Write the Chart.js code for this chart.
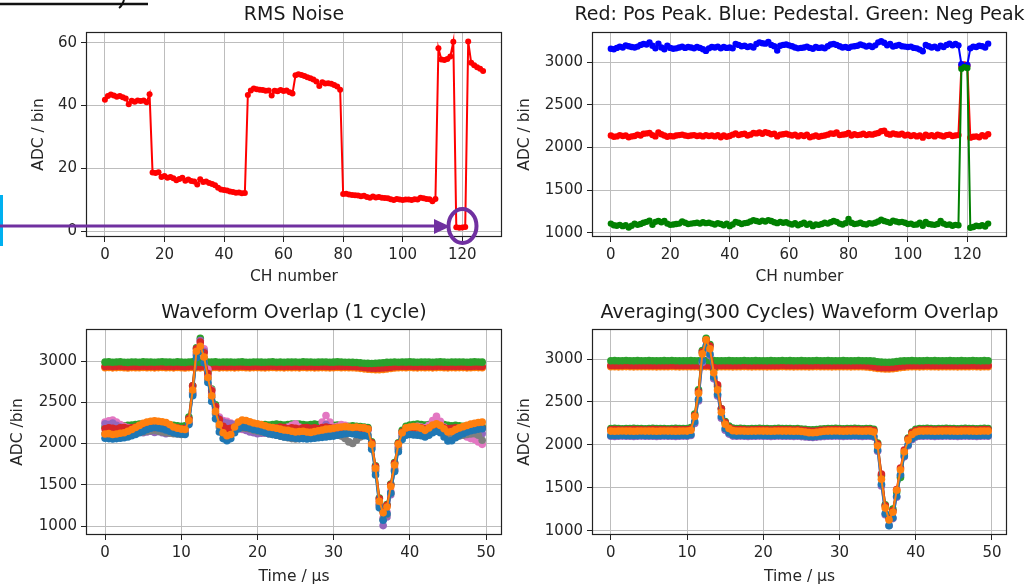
<!DOCTYPE html>
<html>
<head>
<meta charset="utf-8">
<script src="https://cdn.jsdelivr.net/npm/chart.js@4.4.1/dist/chart.umd.min.js"></script>
<style>
  html, body { margin: 0; padding: 0; background: #fff; overflow: hidden; }
  #wrap { position: relative; width: 1029px; height: 587px; }
  canvas { position: absolute; }
  svg { position: absolute; left: 0; top: 0; pointer-events: none; }
</style>
</head>
<body>
<div id="wrap">
  <canvas id="cTL" width="515" height="290" style="left:0;top:0"></canvas>
  <canvas id="cTR" width="514" height="290" style="left:515px;top:0"></canvas>
  <canvas id="cBL" width="515" height="297" style="left:0;top:290px"></canvas>
  <canvas id="cBR" width="514" height="297" style="left:515px;top:290px"></canvas>
  <svg width="1029" height="587">
    <line x1="0" y1="4" x2="148" y2="4" stroke="#111" stroke-width="2.5"/>
    <path d="M124,0 Q122,6 119,8" fill="none" stroke="#111" stroke-width="2"/>
    <rect x="0" y="195" width="3" height="51" fill="#00b0f0"/>
    <line x1="0" y1="226" x2="436" y2="226" stroke="#7030a0" stroke-width="3"/>
    <polygon points="434,219 434,234 450,226.5" fill="#7030a0"/>
    <ellipse cx="462.5" cy="226" rx="14" ry="17" fill="none" stroke="#7030a0" stroke-width="4"/>
  </svg>
</div>
<script>
// x positions: channel index and sample time (0.5 us step)
const channels = Array.from({ length: 128 }, (_, i) => i);
const timeUs = Array.from({ length: 100 }, (_, i) => i * 0.5);

const chTicks = [0, 20, 40, 60, 80, 100, 120];
const rmsTicks = [0, 20, 40, 60];
const adcTicks = [1000, 1500, 2000, 2500, 3000];
const timeTicks = [0, 10, 20, 30, 40, 50];

// RMS noise per channel
const rmsNoise = [
  41.8,43.0,43.5,43.2,42.8,43.0,42.6,42.2,40.4,41.5,41.2,41.6,41.4,41.6,41.0,43.6,
  18.6,18.5,18.7,17.2,17.5,17.0,17.2,16.8,16.2,16.6,17.0,16.0,16.4,15.9,15.8,14.8,
  16.5,15.6,15.8,15.3,15.0,14.6,13.8,13.2,13.1,12.9,12.6,12.4,12.2,12.3,12.0,12.1,
  43.3,44.8,45.4,45.2,45.0,44.9,44.7,44.8,43.2,44.7,44.5,44.9,44.6,44.8,44.2,43.8,
  49.6,49.9,49.7,49.4,49.0,48.7,48.3,47.6,46.2,47.4,47.0,47.1,46.9,46.5,46.0,45.0,
  11.8,11.9,11.6,11.5,11.4,11.3,11.1,11.2,10.8,10.6,11.0,10.7,10.8,10.6,10.5,10.4,
  10.1,9.9,10.2,10.0,9.9,10.0,10.0,9.9,10.1,10.0,10.6,10.4,10.2,10.1,9.5,10.2,
  58.2,54.6,54.5,54.8,55.6,60.3,1.2,1.0,1.1,1.3,60.4,53.6,52.8,52.2,51.7,51.0
];

// peaks / pedestal per channel
const posPeak = [
  2140,2125,2130,2145,2135,2140,2120,2130,2135,2150,2140,2160,2165,2170,2145,2130,
  2175,2155,2140,2125,2135,2130,2140,2145,2150,2140,2135,2140,2145,2135,2140,2130,
  2145,2135,2140,2130,2145,2120,2140,2125,2135,2150,2165,2145,2155,2160,2140,2150,
  2170,2165,2175,2160,2180,2170,2155,2160,2130,2150,2155,2160,2150,2140,2150,2130,
  2145,2135,2150,2120,2130,2140,2125,2135,2140,2150,2165,2160,2175,2145,2150,2155,
  2170,2140,2155,2145,2150,2160,2145,2155,2150,2160,2170,2190,2195,2160,2150,2165,
  2155,2150,2160,2140,2150,2135,2145,2130,2140,2115,2150,2135,2145,2130,2150,2140,
  2130,2145,2150,2135,2140,2145,2950,2970,2960,2115,2125,2130,2120,2145,2130,2155
];
const pedestal = [
  3155,3150,3165,3180,3170,3195,3185,3175,3170,3180,3200,3210,3205,3230,3190,3160,
  3215,3170,3150,3190,3165,3155,3160,3170,3180,3165,3175,3170,3160,3175,3165,3150,
  3130,3160,3175,3170,3180,3160,3175,3165,3170,3160,3210,3200,3185,3190,3175,3185,
  3170,3210,3230,3220,3215,3235,3200,3185,3135,3190,3200,3205,3195,3185,3170,3160,
  3165,3170,3180,3165,3155,3175,3165,3170,3160,3185,3205,3210,3200,3185,3170,3175,
  3165,3180,3185,3190,3205,3195,3180,3190,3175,3195,3230,3242,3225,3195,3210,3180,
  3190,3200,3185,3180,3175,3180,3165,3160,3145,3125,3200,3185,3170,3180,3160,3190,
  3175,3200,3215,3195,3210,3195,2975,2950,2965,3160,3180,3175,3190,3185,3170,3215
];
const negPeak = [
  1110,1090,1085,1095,1080,1090,1065,1085,1110,1095,1105,1120,1130,1145,1095,1130,
  1140,1125,1140,1110,1095,1100,1105,1110,1135,1120,1105,1110,1115,1120,1110,1125,
  1115,1120,1110,1100,1115,1105,1090,1110,1080,1100,1130,1120,1105,1115,1120,1135,
  1150,1140,1130,1145,1135,1150,1140,1125,1115,1130,1120,1125,1110,1100,1115,1090,
  1105,1120,1095,1110,1080,1100,1095,1105,1120,1110,1125,1140,1130,1110,1100,1115,
  1165,1120,1105,1110,1120,1105,1100,1115,1110,1120,1135,1155,1140,1130,1120,1145,
  1135,1125,1130,1120,1105,1110,1095,1100,1120,1085,1130,1105,1100,1095,1105,1140,
  1110,1095,1100,1085,1095,1090,2920,2940,2930,1062,1070,1085,1080,1090,1075,1110
];

// waveform, 1 cycle (rows = 5 us)
const cycFlatOrange = [
  2920,2922,2918,2921,2923,2919,2917,2921,2920,2919, 2922,2920,2921,2918,2921,2923,2920,2921,2918,2922,
  2920,2917,2921,2922,2919,2918,2921,2920,2920,2922, 2918,2921,2920,2921,2918,2921,2922,2919,2918,2921,
  2921,2920,2918,2921,2922,2919,2921,2918,2921,2920, 2921,2918,2922,2920,2921,2918,2920,2921,2920,2918,
  2920,2922,2920,2921,2919,2920,2917,2912,2906,2901, 2897,2895,2896,2899,2904,2910,2916,2919,2921,2920,
  2922,2920,2918,2921,2920,2921,2918,2921,2922,2920, 2918,2921,2920,2921,2921,2918,2920,2922,2921,2920
];
const cycFlatRed = [
  2935,2937,2933,2936,2938,2934,2932,2936,2935,2934, 2937,2935,2936,2933,2936,2938,2935,2936,2933,2937,
  2935,2932,2936,2937,2934,2933,2936,2935,2935,2937, 2933,2936,2935,2936,2933,2936,2937,2934,2933,2936,
  2936,2935,2933,2936,2937,2934,2936,2933,2936,2935, 2936,2933,2937,2935,2936,2933,2935,2936,2935,2933,
  2935,2937,2935,2936,2934,2935,2932,2928,2922,2917, 2914,2912,2913,2916,2920,2926,2931,2934,2936,2935,
  2937,2935,2933,2936,2935,2936,2933,2936,2937,2935, 2933,2936,2935,2936,2936,2933,2935,2937,2936,2935
];
const cycFlatGreen = [
  2987,2990,2985,2988,2991,2986,2984,2989,2988,2986, 2990,2987,2988,2985,2989,2991,2987,2988,2985,2990,
  2987,2984,2988,2990,2986,2985,2989,2988,2987,2990, 2985,2988,2987,2989,2985,2988,2990,2986,2985,2988,
  2989,2987,2985,2988,2990,2986,2988,2985,2989,2987, 2988,2985,2990,2987,2988,2985,2987,2989,2988,2985,
  2987,2990,2988,2985,2986,2984,2982,2978,2974,2972, 2971,2973,2976,2980,2984,2986,2988,2985,2988,2987,
  2990,2987,2985,2988,2987,2989,2985,2988,2990,2987, 2985,2988,2987,2989,2988,2985,2987,2990,2988,2987
];
const cycGreen = [
  2200,2210,2205,2200,2210,2215,2220,2225,2230,2235, 2240,2245,2250,2245,2240,2235,2230,2225,2220,2215,
  2210,2215,2320,2700,3160,3275,3130,2870,2660,2470, 2310,2230,2200,2210,2230,2245,2250,2245,2240,2235,
  2230,2225,2230,2225,2230,2235,2230,2225,2230,2235, 2240,2235,2230,2225,2230,2235,2230,2225,2230,2225,
  2220,2225,2220,2215,2210,2215,2210,2205,2200,2195, 2020,1730,1340,1190,1260,1510,1770,2010,2160,2210,
  2225,2230,2235,2230,2225,2230,2240,2250,2240,2230, 2220,2215,2220,2215,2210,2215,2220,2215,2210,2205
];
const cycPink = [
  2260,2275,2285,2260,2230,2210,2195,2185,2175,2170, 2160,2170,2180,2190,2185,2175,2160,2150,2140,2135,
  2130,2140,2240,2600,3080,3200,3150,2900,2650,2450, 2320,2280,2270,2250,2220,2190,2170,2160,2150,2140,
  2135,2130,2125,2120,2115,2120,2140,2180,2200,2220, 2240,2200,2160,2140,2130,2150,2170,2260,2340,2260,
  2200,2210,2230,2220,2190,2170,2160,2170,2180,2170, 1980,1690,1290,1100,1170,1420,1700,1960,2120,2170,
  2190,2200,2210,2200,2190,2220,2280,2330,2270,2200, 2160,2140,2120,2110,2100,2080,2060,2050,2020,1990
];
const cycPurple = [
  2240,2230,2250,2220,2200,2180,2160,2150,2140,2150, 2130,2140,2150,2135,2145,2130,2120,2135,2125,2130,
  2120,2150,2260,2620,3100,3250,3120,2820,2600,2420, 2300,2260,2250,2240,2230,2200,2180,2160,2140,2130,
  2120,2125,2130,2140,2135,2140,2130,2120,2110,2120, 2140,2160,2150,2130,2120,2125,2140,2180,2230,2190,
  2150,2140,2150,2170,2160,2150,2120,2130,2150,2160, 1960,1680,1250,1005,1110,1380,1680,1950,2100,2150,
  2160,2170,2165,2160,2150,2160,2190,2220,2190,2150, 2120,2110,2120,2130,2140,2150,2145,2140,2130,2120
];
const cycGray = [
  2120,2110,2105,2115,2120,2115,2110,2120,2130,2135, 2140,2150,2155,2160,2150,2140,2130,2125,2120,2115,
  2110,2120,2250,2600,3070,3160,3040,2780,2560,2360, 2200,2120,2100,2110,2150,2180,2190,2185,2175,2160,
  2150,2140,2130,2120,2110,2100,2090,2080,2070,2060, 2055,2060,2070,2075,2080,2085,2090,2095,2100,2105,
  2110,2100,2090,2060,2020,2000,2040,2080,2100,2110, 1950,1660,1260,1080,1140,1400,1680,1930,2080,2130,
  2140,2135,2130,2125,2120,2140,2170,2200,2170,2120, 2080,2070,2080,2090,2100,2110,2115,2120,2100,2040
];
const cycRed = [
  2180,2190,2185,2175,2190,2195,2185,2190,2200,2195, 2210,2205,2200,2195,2205,2200,2190,2195,2185,2190,
  2180,2185,2300,2700,3150,3230,3100,2850,2640,2450, 2290,2210,2180,2185,2195,2205,2200,2195,2190,2200,
  2195,2190,2200,2195,2185,2190,2200,2195,2180,2190, 2185,2175,2190,2195,2185,2190,2180,2195,2200,2190,
  2185,2195,2190,2200,2185,2190,2195,2185,2190,2180, 2010,1720,1330,1180,1250,1500,1760,2000,2140,2180,
  2190,2185,2195,2190,2180,2185,2200,2190,2185,2190, 2180,2185,2190,2180,2185,2190,2180,2185,2190,2185
];
const cycBlue = [
  2065,2060,2055,2060,2065,2070,2080,2095,2110,2130, 2150,2170,2185,2195,2190,2180,2165,2150,2130,2120,
  2115,2110,2230,2580,3040,3120,2980,2740,2510,2300, 2140,2060,2035,2060,2130,2180,2200,2195,2185,2170,
  2160,2150,2135,2120,2110,2100,2090,2080,2075,2070, 2065,2060,2060,2055,2060,2065,2070,2075,2080,2085,
  2090,2100,2110,2120,2125,2120,2110,2100,2095,2090, 1930,1620,1220,1070,1150,1400,1660,1900,2050,2100,
  2110,2105,2100,2095,2080,2100,2130,2150,2130,2080, 2030,2035,2070,2100,2120,2140,2155,2165,2175,2180
];
const cycOrange = [
  2115,2120,2110,2115,2125,2130,2150,2170,2195,2220, 2245,2260,2270,2275,2270,2265,2255,2230,2200,2185,
  2175,2170,2280,2650,3120,3180,3050,2800,2580,2390, 2230,2130,2095,2110,2200,2260,2285,2280,2265,2250,
  2240,2230,2215,2200,2195,2185,2175,2165,2160,2150, 2140,2145,2150,2140,2135,2145,2155,2165,2175,2180,
  2185,2195,2200,2205,2200,2195,2200,2195,2190,2175, 1990,1700,1300,1160,1230,1480,1740,1990,2130,2190,
  2200,2205,2200,2185,2160,2190,2225,2240,2220,2180, 2140,2145,2170,2190,2205,2220,2235,2245,2255,2260
];

// waveform, averaged over 300 cycles
const avgFlatOrange = [
  2910,2911,2909,2910,2912,2910,2909,2911,2910,2910, 2911,2910,2909,2910,2911,2910,2912,2910,2909,2910,
  2910,2911,2910,2909,2910,2912,2910,2911,2909,2910, 2910,2911,2909,2910,2910,2912,2910,2909,2911,2910,
  2910,2909,2911,2910,2910,2912,2910,2911,2909,2910, 2911,2910,2909,2910,2912,2910,2910,2911,2909,2910,
  2910,2911,2910,2909,2910,2911,2910,2907,2903,2897, 2890,2886,2884,2885,2888,2893,2900,2905,2909,2911,
  2910,2909,2910,2912,2910,2911,2909,2910,2910,2911, 2910,2909,2911,2910,2910,2912,2910,2909,2911,2910
];
const avgFlatRed = [
  2925,2926,2924,2925,2927,2925,2924,2926,2925,2925, 2926,2925,2924,2925,2926,2925,2927,2925,2924,2925,
  2925,2926,2925,2924,2925,2927,2925,2926,2924,2925, 2925,2926,2924,2925,2925,2927,2925,2924,2926,2925,
  2925,2924,2926,2925,2925,2927,2925,2926,2924,2925, 2926,2925,2924,2925,2927,2925,2925,2926,2924,2925,
  2925,2926,2925,2924,2925,2926,2925,2922,2918,2912, 2905,2900,2898,2899,2902,2908,2915,2920,2924,2926,
  2925,2924,2925,2927,2925,2926,2924,2925,2925,2926, 2925,2924,2926,2925,2925,2927,2925,2924,2926,2925
];
const avgFlatGreen = [
  2980,2981,2979,2980,2982,2980,2979,2981,2980,2980, 2981,2980,2979,2980,2981,2980,2982,2980,2979,2980,
  2980,2981,2980,2979,2980,2982,2980,2981,2979,2980, 2980,2981,2979,2980,2980,2982,2980,2979,2981,2980,
  2980,2979,2981,2980,2980,2982,2980,2981,2979,2980, 2981,2980,2979,2980,2982,2980,2980,2981,2979,2980,
  2980,2981,2980,2979,2980,2981,2980,2979,2978,2975, 2968,2964,2962,2963,2966,2972,2976,2978,2980,2981,
  2980,2979,2980,2982,2980,2981,2979,2980,2980,2981, 2980,2979,2981,2980,2980,2982,2980,2979,2981,2980
];
const avgPurple = [
  2100,2098,2100,2102,2100,2100,2098,2100,2102,2100, 2100,2100,2098,2100,2102,2100,2100,2098,2100,2102,
  2100,2110,2250,2510,2960,3130,3040,2770,2570,2310, 2170,2125,2102,2100,2102,2100,2098,2100,2100,2102,
  2100,2100,2098,2100,2102,2100,2100,2100,2098,2100, 2096,2092,2088,2086,2090,2094,2098,2100,2100,2102,
  2100,2098,2100,2100,2102,2100,2098,2100,2100,2090, 1925,1520,1185,1060,1140,1390,1640,1860,1990,2060,
  2090,2100,2100,2102,2100,2098,2100,2100,2102,2100, 2100,2098,2100,2102,2100,2100,2098,2100,2102,2100
];
const avgGreen = [
  2190,2192,2190,2188,2190,2190,2192,2190,2190,2188, 2190,2192,2190,2190,2190,2188,2190,2192,2190,2190,
  2190,2200,2360,2640,3100,3241,3170,2880,2680,2420, 2270,2220,2195,2190,2192,2190,2188,2190,2190,2192,
  2190,2190,2188,2190,2192,2190,2190,2190,2188,2190, 2185,2180,2176,2175,2178,2184,2188,2190,2190,2192,
  2190,2188,2190,2190,2192,2190,2188,2190,2190,2180, 2020,1640,1300,1160,1250,1450,1620,1900,2080,2150,
  2180,2190,2190,2192,2190,2188,2190,2190,2192,2190, 2190,2188,2190,2192,2190,2190,2188,2190,2192,2190
];
const avgRed = [
  2175,2177,2175,2173,2175,2175,2177,2175,2175,2173, 2175,2177,2175,2175,2175,2173,2175,2177,2175,2175,
  2175,2185,2340,2620,3080,3220,3150,2900,2700,2420, 2260,2200,2180,2175,2177,2175,2173,2175,2175,2177,
  2175,2175,2173,2175,2177,2175,2175,2175,2173,2175, 2170,2165,2160,2158,2162,2168,2173,2175,2175,2177,
  2175,2173,2175,2175,2177,2175,2173,2175,2175,2165, 2010,1660,1290,1140,1230,1480,1730,1940,2070,2140,
  2165,2175,2175,2177,2175,2173,2175,2175,2177,2175, 2175,2173,2175,2177,2175,2175,2173,2175,2177,2175
];
const avgBlue = [
  2110,2108,2110,2112,2110,2110,2108,2110,2112,2110, 2110,2110,2108,2110,2112,2110,2110,2108,2110,2112,
  2110,2120,2270,2530,2980,3150,3060,2790,2590,2330, 2190,2140,2115,2110,2112,2110,2108,2110,2110,2112,
  2110,2110,2108,2110,2112,2110,2110,2110,2108,2110, 2106,2102,2098,2096,2100,2104,2108,2110,2110,2112,
  2110,2108,2110,2110,2112,2110,2108,2110,2110,2100, 1940,1540,1200,1058,1150,1400,1650,1870,2000,2070,
  2100,2110,2110,2112,2110,2108,2110,2110,2112,2110, 2110,2108,2110,2112,2110,2110,2108,2110,2112,2110
];
const avgOrange = [
  2160,2158,2160,2162,2160,2160,2158,2160,2162,2160, 2160,2160,2158,2160,2162,2160,2160,2158,2160,2162,
  2160,2170,2330,2600,3060,3225,3120,2840,2640,2380, 2240,2190,2165,2160,2162,2160,2158,2160,2160,2162,
  2160,2160,2158,2160,2162,2160,2160,2160,2158,2160, 2155,2150,2142,2140,2145,2152,2158,2160,2160,2162,
  2160,2158,2160,2160,2162,2160,2158,2160,2160,2150, 1990,1600,1265,1125,1215,1470,1710,1920,2055,2120,
  2150,2160,2160,2162,2160,2158,2160,2160,2162,2160, 2160,2158,2160,2162,2160,2160,2158,2160,2162,2160
];

const tab = {
  blue: '#1f77b4', orange: '#ff7f0e', green: '#2ca02c', red: '#d62728',
  purple: '#9467bd', pink: '#e377c2', gray: '#7f7f7f'
};

Chart.defaults.font.family = '"DejaVu Sans", sans-serif';
Chart.defaults.color = '#262626';

// frame box + panel title (drawn over the plot like matplotlib spines)
const panelDeco = {
  id: 'panelDeco',
  afterDraw(chart, args, opts) {
    const { ctx, chartArea: a } = chart;
    ctx.save();
    ctx.strokeStyle = '#222';
    ctx.lineWidth = 1.2;
    ctx.strokeRect(a.left + 0.5, a.top + 0.5, a.right - a.left - 1, a.bottom - a.top - 1);
    ctx.fillStyle = '#1a1a1a';
    ctx.font = '19px "DejaVu Sans"';
    ctx.textAlign = 'center';
    ctx.textBaseline = 'middle';
    ctx.fillText(opts.title, (a.left + a.right) / 2, opts.titleY);
    ctx.restore();
  }
};

function axis(o) {
  const vertical = o.pos === 'left';
  return {
    type: 'linear',
    position: o.pos,
    min: o.min,
    max: o.max,
    afterBuildTicks: s => { s.ticks = o.ticks.map(v => ({ value: v })); },
    afterFit: s => { if (vertical) s.width = o.size; else s.height = o.size; },
    ticks: { autoSkip: false, maxRotation: 0, padding: 4, color: '#262626', font: { size: 15 }, callback: v => String(v) },
    grid: { color: '#bdbdbd', lineWidth: 1, tickLength: 5, tickColor: '#222', tickWidth: 1 },
    border: { display: false },
    title: {
      display: true, text: o.label, color: '#262626', font: { size: 15.5 },
      padding: vertical ? { top: o.titlePad, bottom: 0 } : { top: 0, bottom: o.titlePad }
    }
  };
}

// later series go on top, like matplotlib
function lines(xs, list, r, w) {
  return list.map((s, i) => ({
    data: s.ys.map((y, k) => ({ x: xs[k], y })),
    borderColor: s.color,
    backgroundColor: s.color,
    borderWidth: w,
    pointRadius: r,
    pointBorderWidth: 0,
    order: list.length - i
  }));
}

function panel(id, p) {
  return new Chart(document.getElementById(id), {
    type: 'line',
    data: { datasets: p.datasets },
    options: {
      animation: false,
      responsive: false,
      devicePixelRatio: 1,
      events: [],
      layout: { padding: { left: 0, top: p.top, right: p.right, bottom: 0 } },
      plugins: {
        legend: { display: false },
        tooltip: { enabled: false },
        panelDeco: { title: p.title, titleY: p.titleY }
      },
      scales: { x: p.x, y: p.y }
    },
    plugins: [panelDeco]
  });
}

panel('cTL', {
  title: 'RMS Noise', titleY: 14.7, top: 32, right: 13,
  datasets: lines(channels, [{ ys: rmsNoise, color: '#ff0000' }], 3, 2),
  x: axis({ pos: 'bottom', min: -6.35, max: 133.35, ticks: chTicks, size: 53, label: 'CH number', titlePad: 4 }),
  y: axis({ pos: 'left', min: -1.91, max: 63.4, ticks: rmsTicks, size: 86, label: 'ADC / bin', titlePad: 29.7 })
});

panel('cTR', {
  title: 'Red: Pos Peak. Blue: Pedestal. Green: Neg Peak', titleY: 15, top: 32, right: 22,
  datasets: lines(channels, [
    { ys: posPeak, color: '#ff0000' },
    { ys: pedestal, color: '#0000ff' },
    { ys: negPeak, color: '#008000' }
  ], 3.2, 2),
  x: axis({ pos: 'bottom', min: -6.35, max: 133.35, ticks: chTicks, size: 53, label: 'CH number', titlePad: 4 }),
  y: axis({ pos: 'left', min: 953, max: 3351, ticks: adcTicks, size: 77, label: 'ADC / bin', titlePad: 0.7 })
});

panel('cBL', {
  title: 'Waveform Overlap (1 cycle)', titleY: 22.7, top: 39, right: 13,
  datasets: lines(timeUs, [
    { ys: cycFlatOrange, color: tab.orange },
    { ys: cycFlatRed, color: tab.red },
    { ys: cycFlatGreen, color: tab.green },
    { ys: cycGreen, color: tab.green },
    { ys: cycPink, color: tab.pink },
    { ys: cycPurple, color: tab.purple },
    { ys: cycGray, color: tab.gray },
    { ys: cycRed, color: tab.red },
    { ys: cycBlue, color: tab.blue },
    { ys: cycOrange, color: tab.orange }
  ], 3.8, 2),
  x: axis({ pos: 'bottom', min: -2.5, max: 52.1, ticks: timeTicks, size: 52, label: 'Time / μs', titlePad: 1 }),
  y: axis({ pos: 'left', min: 891, max: 3389, ticks: adcTicks, size: 86, label: 'ADC /bin', titlePad: 9 })
});

panel('cBR', {
  title: 'Averaging(300 Cycles) Waveform Overlap', titleY: 22.7, top: 39, right: 22,
  datasets: lines(timeUs, [
    { ys: avgFlatOrange, color: tab.orange },
    { ys: avgFlatRed, color: tab.red },
    { ys: avgFlatGreen, color: tab.green },
    { ys: avgPurple, color: tab.purple },
    { ys: avgGreen, color: tab.green },
    { ys: avgRed, color: tab.red },
    { ys: avgBlue, color: tab.blue },
    { ys: avgOrange, color: tab.orange }
  ], 3.8, 2),
  x: axis({ pos: 'bottom', min: -2.475, max: 51.975, ticks: timeTicks, size: 52, label: 'Time / μs', titlePad: 1 }),
  y: axis({ pos: 'left', min: 949, max: 3350, ticks: adcTicks, size: 77, label: 'ADC /bin', titlePad: 0.7 })
});
</script>
</body>
</html>
